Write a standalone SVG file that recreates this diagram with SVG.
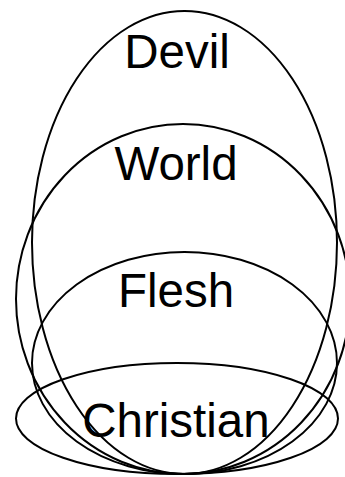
<svg xmlns="http://www.w3.org/2000/svg" width="345" height="477" viewBox="0 0 345 477">
<style>
.e{fill:none;stroke:#000;stroke-width:2}
.t{font-family:"Liberation Sans",Arial,sans-serif;font-size:47.5px;fill:#000;text-anchor:middle}
</style>
<rect width="345" height="477" fill="#fff"/>
<g id="devil"><ellipse class="e" cx="184.5" cy="242.5" rx="152.5" ry="231.5"/><text class="t" x="177" y="68">Devil</text></g>
<g id="world"><ellipse class="e" cx="183" cy="299" rx="167" ry="175"/><text class="t" x="176" y="180">World</text></g>
<g id="flesh"><ellipse class="e" cx="184.5" cy="363" rx="152.5" ry="111"/><text class="t" x="176" y="307">Flesh</text></g>
<g id="christian"><ellipse class="e" cx="177" cy="418.5" rx="161" ry="55.5"/><text class="t" x="176" y="437">Christian</text></g>
</svg>
